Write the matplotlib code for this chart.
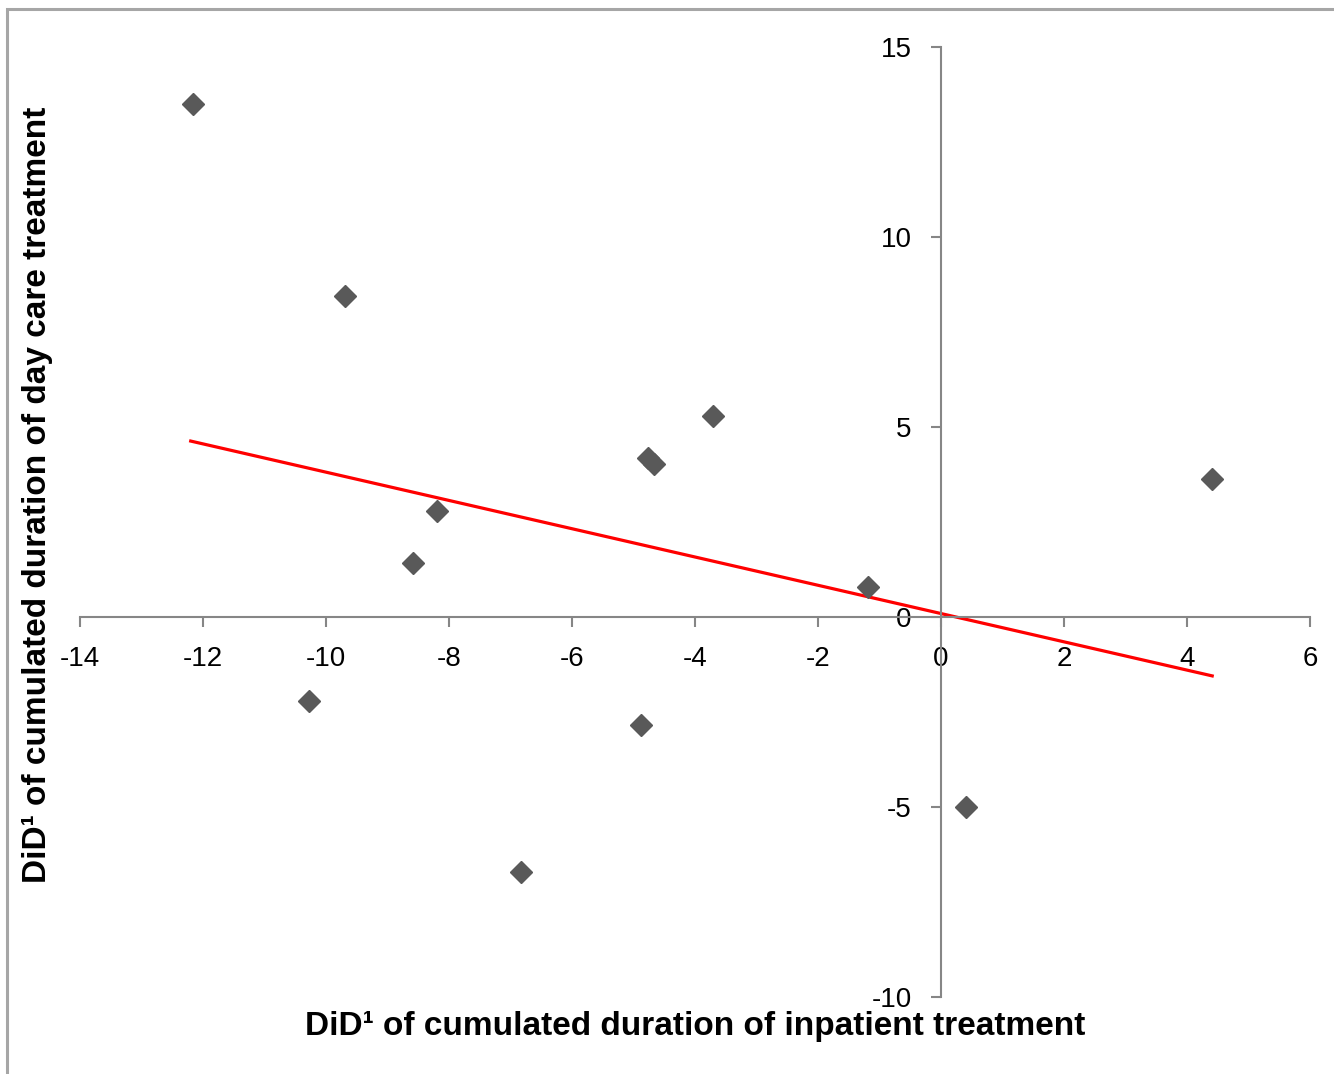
import matplotlib
matplotlib.use("Agg")
import matplotlib.pyplot as plt
from matplotlib.patches import Rectangle

# Data
x_vals = [-12.16, -9.69, -3.71, -4.76, -4.67, 4.41, -8.20, -8.59, -1.19, -10.28, -4.88, 0.41, -6.83]
y_vals = [13.50, 8.45, 5.29, 4.18, 4.03, 3.63, 2.79, 1.42, 0.79, -2.21, -2.84, -5.00, -6.71]
trend_x = [-12.2, 4.41]
trend_y = [4.63, -1.55]
x_ticks = [-14, -12, -10, -8, -6, -4, -2, 0, 2, 4, 6]
y_ticks = [-10, -5, 0, 5, 10, 15]

W, H = 1334, 1074
fig = plt.figure(figsize=(W / 100, H / 100), dpi=100)
fig.patch.set_facecolor("white")

# outer chart border
fig.add_artist(Rectangle((7 / W, -0.05), 1.2, (H - 9) / H + 0.05, transform=fig.transFigure,
                         fill=False, edgecolor="#a6a6a6", linewidth=2.2))

ax = fig.add_axes([80 / W, 1 - 997 / H, (1310 - 80) / W, (997 - 47) / H])
ax.set_xlim(-14, 6)
ax.set_ylim(-10, 15)

ax.plot(trend_x, trend_y, color="#ff0000", linewidth=2.3, zorder=2)
ax.plot(x_vals, y_vals, linestyle="none", marker="D", markersize=11.5,
        color="#595959", markeredgecolor="#595959", zorder=3)

for s in ["top", "right"]:
    ax.spines[s].set_visible(False)
ax.spines["left"].set_position(("data", 0))
ax.spines["bottom"].set_position(("data", 0))
for s in ["left", "bottom"]:
    ax.spines[s].set_color("#868686")
    ax.spines[s].set_linewidth(1.5)

fam = ["Liberation Sans", "DejaVu Sans"]
ax.set_xticks(x_ticks)
ax.set_yticks(y_ticks)
ax.set_xticklabels([str(t) for t in x_ticks], fontsize=20, family=fam)
ax.set_yticklabels([str(t) for t in y_ticks], fontsize=20, family=fam)
ax.tick_params(axis="x", direction="out", length=7, width=1.5, color="#868686", pad=14)
ax.tick_params(axis="y", direction="out", length=7, width=1.5, color="#868686", pad=14)

fig.text(695 / W, 1 - 1027 / H, "DiD¹ of cumulated duration of inpatient treatment",
         ha="center", va="center", fontsize=24, fontweight="bold", family=fam)
fig.text(38 / W, 1 - 495 / H, "DiD¹ of cumulated duration of day care treatment",
         ha="center", va="center", rotation=90, fontsize=24, fontweight="bold", family=fam)

fig.savefig("out.png", dpi=100, facecolor="white")
